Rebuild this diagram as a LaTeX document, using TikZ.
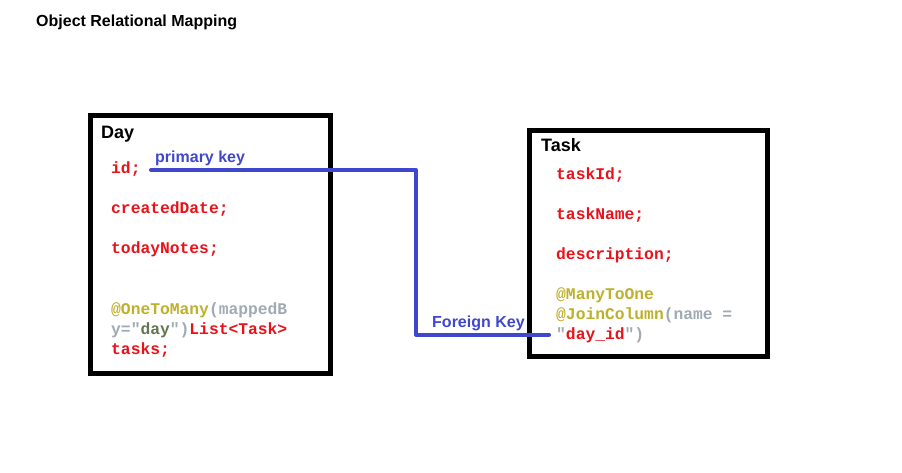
\documentclass[tikz,border=0pt]{standalone}
\usepackage{fontspec}
\setmainfont{Liberation Sans}
\newfontfamily\codefont{Liberation Mono}
\definecolor{lineblue}{RGB}{63,72,204}
\definecolor{codered}{RGB}{232,18,26}
\definecolor{annot}{RGB}{190,176,42}
\definecolor{codegray}{RGB}{160,170,180}
\definecolor{strgreen}{RGB}{100,118,80}
\begin{document}
\begin{tikzpicture}[x=1pt,y=-1pt,
  entitybox/.style={draw=black, line width=5pt, inner sep=0pt, fill=none},
  code/.style={anchor=base west, inner sep=0pt, font=\codefont\bfseries\fontsize{16.3}{20}\selectfont, text=codered},
  boxtitle/.style={anchor=base west, inner sep=0pt, font=\bfseries\fontsize{18}{22}\selectfont, text=black},
  keylabel/.style={anchor=base west, inner sep=0pt, font=\bfseries\fontsize{16}{20}\selectfont, text=lineblue},
  conn/.style={draw=lineblue, line width=4pt, line cap=round, line join=round}]
\useasboundingbox (0,0) rectangle (902,473);
\node[anchor=base west, inner sep=0pt, font=\bfseries\fontsize{16}{20}\selectfont] (title) at (36,26.5) {Object Relational Mapping};
% Day box
\node[entitybox, minimum width=240pt, minimum height=257.5pt] (day) at (210.5,244.75) {};
\node[boxtitle] (daytitle) at (101,138.5) {Day};
\node[code] (dayid) at (111,174) {id;};
\node[code] (daycreated) at (111,214) {createdDate;};
\node[code] (daynotes) at (111,253) {todayNotes;};
\node[code] (dayann1) at (111,314) {{\color{annot}@OneToMany}{\color{codegray}(mappedB}};
\node[code] (dayann2) at (111,334) {{\color{codegray}y="}{\color{strgreen}day}{\color{codegray}")}{\color{codered}List<Task>}};
\node[code] (daytasks) at (111,354) {tasks;};
% Task box
\node[entitybox, minimum width=238.5pt, minimum height=225.5pt] (task) at (648.25,243.75) {};
\node[boxtitle] (tasktitle) at (541,151.5) {Task};
\node[code] (taskid) at (556,179.5) {taskId;};
\node[code] (taskname) at (556,219.5) {taskName;};
\node[code] (taskdesc) at (556,259.5) {description;};
\node[code] (taskann1) at (556,299.5) {{\color{annot}@ManyToOne}};
\node[code] (taskann2) at (556,319.5) {{\color{annot}@JoinColumn}{\color{codegray}(name =}};
\node[code] (taskann3) at (556,339.5) {{\color{codegray}"}{\color{codered}day\_id}{\color{codegray}")}};
% connector
\coordinate (pk) at (151,170);
\coordinate (fk) at (549,334.5);
\draw[conn] (pk) -- ++(265,0) |- (fk);
\node[keylabel] (pklabel) at (155,162.5) {primary key};
\node[keylabel] (fklabel) at (432,327.5) {Foreign Key};
\end{tikzpicture}
\end{document}
